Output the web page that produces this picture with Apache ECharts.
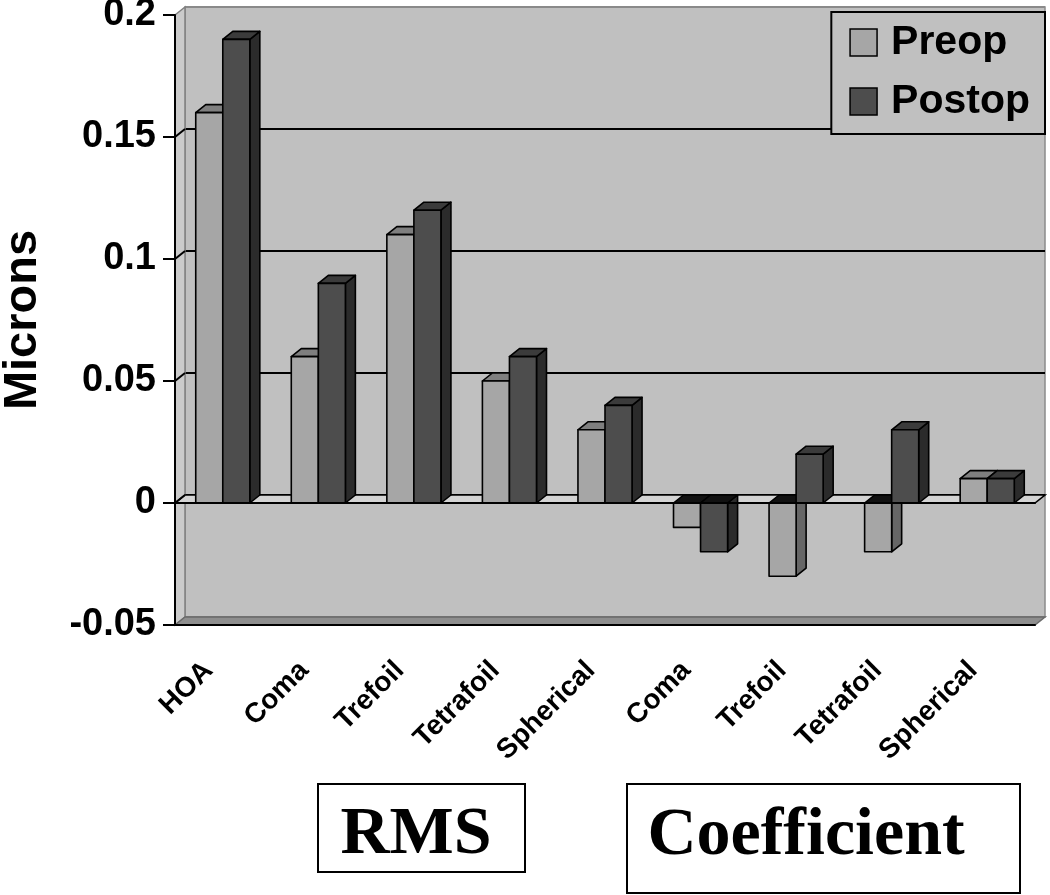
<!DOCTYPE html>
<html>
<head>
<meta charset="utf-8">
<script src="https://cdn.jsdelivr.net/npm/echarts@6/dist/echarts.min.js"></script>
<style>html,body{margin:0;padding:0;background:#fff;}#c{width:1050px;height:895px;}</style>
</head>
<body>
<div id="c"></div>
<script>
const categories = ['HOA', 'Coma', 'Trefoil', 'Tetrafoil', 'Spherical', 'Coma', 'Trefoil', 'Tetrafoil', 'Spherical'];
const preop = [0.16, 0.06, 0.11, 0.05, 0.03, -0.01, -0.03, -0.02, 0.01];
const postop = [0.19, 0.09, 0.12, 0.06, 0.04, -0.02, 0.02, 0.03, 0.01];
const yTicks = [-0.05, 0, 0.05, 0.1, 0.15, 0.2];
const groupLabels = ['RMS', 'Coefficient'];

const DX = 10, DY = -8;
const FONT = '"Liberation Sans", Arial, sans-serif';

function barRenderer(side, colors) {
  return function (params, api) {
    const idx = api.value(0), val = api.value(1);
    const c0 = api.coord([idx, 0]);
    const c1 = api.coord([idx, val]);
    const bw = api.size([1, 0])[0] * 0.283;
    const x0 = side === 0 ? c0[0] - bw : c0[0];
    const top = Math.min(c0[1], c1[1]);
    const bot = Math.max(c0[1], c1[1]);
    const neg = val < 0;
    const st = { stroke: '#000', lineWidth: 1.6, lineJoin: 'round' };
    return {
      type: 'group',
      children: [
        { type: 'polygon', shape: { points: [[x0 + bw, top], [x0 + bw + DX, top + DY], [x0 + bw + DX, bot + DY], [x0 + bw, bot]] },
          style: Object.assign({ fill: colors.side }, st) },
        { type: 'polygon', shape: { points: [[x0, top], [x0 + DX, top + DY], [x0 + bw + DX, top + DY], [x0 + bw, top]] },
          style: Object.assign({ fill: neg ? '#111' : colors.top }, st) },
        { type: 'rect', shape: { x: x0, y: top, width: bw, height: bot - top },
          style: Object.assign({ fill: colors.front }, st) }
      ]
    };
  };
}

const chart = echarts.init(document.getElementById('c'));
chart.setOption({
  backgroundColor: '#ffffff',
  animation: false,
  grid: [
    { left: 175, right: 15, top: 15, bottom: 270, containLabel: false, outerBoundsMode: 'none' },
    { left: 185, right: 5, top: 7, bottom: 278, containLabel: false, outerBoundsMode: 'none', show: true, backgroundColor: '#c0c0c0', borderColor: '#8a8a8a', borderWidth: 1.5 }
  ],
  legend: {
    orient: 'vertical', right: 5, top: 12,
    padding: [10, 15, 12, 18],
    backgroundColor: '#c0c0c0', borderColor: '#000', borderWidth: 2,
    itemWidth: 27, itemHeight: 27, itemGap: 18,
    icon: 'rect',
    textStyle: { fontFamily: FONT, fontWeight: 'bold', fontSize: 41, color: '#000', padding: [0, 0, 0, 9] },
    data: [
      { name: 'Preop', itemStyle: { color: '#a6a6a6', borderColor: '#000', borderWidth: 1.5 } },
      { name: 'Postop', itemStyle: { color: '#4d4d4d', borderColor: '#000', borderWidth: 1.5 } }
    ]
  },
  xAxis: [
    {
      gridIndex: 0, type: 'category', data: categories, position: 'bottom', z: 6,
      axisLine: { onZero: false, lineStyle: { color: '#000', width: 2 } },
      axisTick: { length: 10, lineStyle: { color: '#000', width: 2 } },
      axisLabel: { rotate: 45, interval: 0, margin: 27, padding: [0, 20, 0, 0], fontFamily: FONT, fontWeight: 'bold', fontSize: 28, color: '#000' },
      splitLine: { show: false }
    },
    {
      gridIndex: 0, type: 'category', data: categories, position: 'bottom', z: 6,
      axisLine: { onZero: true, lineStyle: { color: '#000', width: 2 } },
      axisTick: { length: 9, lineStyle: { color: '#000', width: 2 } },
      axisLabel: { show: false },
      splitLine: { show: false }
    },
    { gridIndex: 1, type: 'category', data: categories, show: false }
  ],
  yAxis: [
    {
      gridIndex: 0, type: 'value', min: yTicks[0], max: yTicks[yTicks.length - 1], interval: 0.05, z: 6,
      name: 'Microns', nameLocation: 'middle', nameRotate: 90, nameGap: 128,
      nameTextStyle: { fontFamily: FONT, fontWeight: 'bold', fontSize: 47, color: '#000' },
      axisLine: { show: true, lineStyle: { color: '#000', width: 2 } },
      axisTick: { show: true, length: 12, lineStyle: { color: '#000', width: 2 } },
      axisLabel: { margin: 19, fontFamily: FONT, fontWeight: 'bold', fontSize: 38, color: '#000' },
      splitLine: { show: false }
    },
    {
      gridIndex: 1, type: 'value', min: yTicks[0], max: yTicks[yTicks.length - 1], interval: 0.05,
      axisLine: { show: false }, axisTick: { show: false }, axisLabel: { show: false },
      splitLine: { show: true, lineStyle: { color: ['#8a8a8a', '#000', '#000', '#000', '#000', '#8a8a8a'], width: 2 } }
    }
  ],
  series: [
    {
      type: 'custom', name: 'walls', coordinateSystem: 'cartesian2d', xAxisIndex: 0, yAxisIndex: 0, z: 1,
      silent: true, data: [[0, 0]],
      renderItem: function (params, api) {
        const cs = params.coordSys;
        const x0 = cs.x, x1 = cs.x + cs.width, yT = cs.y, yB = cs.y + cs.height;
        const y0 = api.coord([0, 0])[1];
        const ch = [
          { type: 'polygon', shape: { points: [[x0, yT], [x0 + DX, yT + DY], [x0 + DX, yB + DY], [x0, yB]] },
            style: { fill: '#cbcbcb', stroke: '#808080', lineWidth: 1.5 } },
          { type: 'polygon', shape: { points: [[x0, yB], [x0 + DX, yB + DY], [x1 + DX, yB + DY], [x1, yB]] },
            style: { fill: '#8e8e8e', stroke: '#6a6a6a', lineWidth: 1.5 } },
          { type: 'polygon', shape: { points: [[x0, y0], [x0 + DX, y0 + DY], [x1 + DX, y0 + DY], [x1, y0]] },
            style: { fill: '#d4d4d4', stroke: '#000', lineWidth: 1.6 } }
        ];
        yTicks.forEach(function (t) {
          if (t === yTicks[0] || t === yTicks[yTicks.length - 1]) return;
          const y = api.coord([0, t])[1];
          ch.push({ type: 'line', shape: { x1: x0, y1: y, x2: x0 + DX, y2: y + DY }, style: { stroke: '#000', lineWidth: 2 } });
        });
        return { type: 'group', children: ch };
      }
    },
    {
      type: 'custom', name: 'Preop', coordinateSystem: 'cartesian2d', xAxisIndex: 0, yAxisIndex: 0, z: 3,
      itemStyle: { color: '#a6a6a6' },
      encode: { x: 0, y: 1 },
      data: preop.map(function (v, i) { return [i, v]; }),
      renderItem: barRenderer(0, { front: '#a6a6a6', side: '#666666', top: '#7f7f7f' })
    },
    {
      type: 'custom', name: 'Postop', coordinateSystem: 'cartesian2d', xAxisIndex: 0, yAxisIndex: 0, z: 4,
      itemStyle: { color: '#4d4d4d' },
      encode: { x: 0, y: 1 },
      data: postop.map(function (v, i) { return [i, v]; }),
      renderItem: barRenderer(1, { front: '#4d4d4d', side: '#2b2b2b', top: '#3b3b3b' })
    }
  ],
  graphic: [
    { type: 'rect', shape: { x: 318, y: 784, width: 207, height: 88 }, style: { fill: '#fff', stroke: '#000', lineWidth: 2 } },
    { type: 'text', style: { text: groupLabels[0], x: 416, y: 835, align: 'center', verticalAlign: 'middle', font: 'bold 68px "Liberation Serif", "Times New Roman", serif', fill: '#000' } },
    { type: 'rect', shape: { x: 627, y: 784, width: 393, height: 109 }, style: { fill: '#fff', stroke: '#000', lineWidth: 2 } },
    { type: 'text', style: { text: groupLabels[1], x: 806, y: 836, align: 'center', verticalAlign: 'middle', font: 'bold 68px "Liberation Serif", "Times New Roman", serif', fill: '#000' } }
  ]
});
</script>
</body>
</html>
